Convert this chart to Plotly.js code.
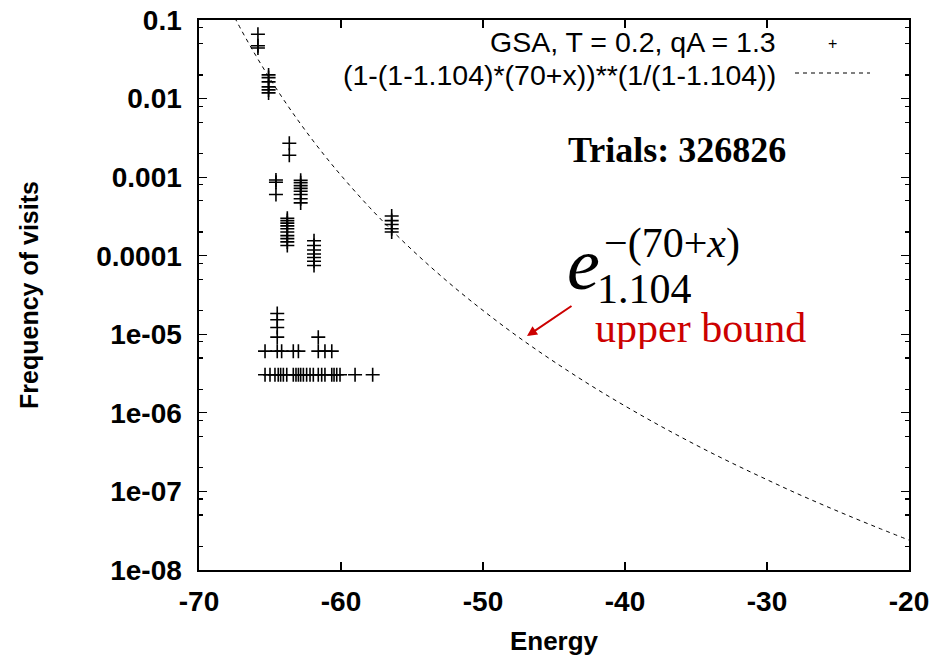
<!DOCTYPE html>
<html>
<head>
<meta charset="utf-8">
<script src="https://cdn.plot.ly/plotly-3.0.1.min.js"></script>
<style>html,body{margin:0;padding:0;background:#fff;}#chart{width:935px;height:659px;}</style>
</head>
<body>
<div id="chart"></div>
<script>
// GSA visits (energy, frequency of visits)
const energy = [
  -65.85, -65.85, -65.85,
  -65.1, -65.1, -65.1, -65.1, -65.1, -65.1,
  -63.64, -63.64,
  -64.58, -64.58, -64.58,
  -62.84, -62.84, -62.84, -62.84, -62.84, -62.84, -62.84, -62.84,
  -63.78, -63.78, -63.78, -63.78, -63.78, -63.78, -63.78, -63.78, -63.78, -63.78,
  -61.9, -61.9, -61.9, -61.9, -61.9, -61.9, -61.9,
  -56.43, -56.43, -56.43, -56.43, -56.43,
  -64.49, -64.49, -64.49, -64.49, -61.6,
  -65.35, -64.49, -64.18, -63.36, -63.0, -61.6, -61.13, -60.65,
  -65.35, -65.0, -64.65, -64.42, -64.25, -64.06, -63.82, -63.36, -63.17, -63.0, -62.84, -62.65,
  -62.42, -62.18, -61.95, -61.6, -61.36, -61.13, -60.65, -60.49, -60.3, -60.07, -59.01, -57.77
];
const freq = [
  0.066, 0.047, 0.044,
  0.0200, 0.0185, 0.0163, 0.0141, 0.0129, 0.0118,
  0.0027, 0.0019,
  0.00092, 0.00086, 0.00060,
  0.00091, 0.00085, 0.00078, 0.00072, 0.00066, 0.00060, 0.00053, 0.00047,
  0.00030, 0.00028, 0.00026, 0.00024, 0.00022, 0.00020, 0.00018, 0.000165, 0.00015, 0.000135,
  0.000155, 0.000135, 0.000118, 0.000105, 0.000095, 0.000085, 0.000075,
  0.00032, 0.00028, 0.00025, 0.00022, 0.00020,
  1.84e-5, 1.53e-5, 1.22e-5, 9.2e-6, 9.2e-6,
  6.1e-6, 6.1e-6, 6.1e-6, 6.1e-6, 6.1e-6, 6.1e-6, 6.1e-6, 6.1e-6,
  3.06e-6, 3.06e-6, 3.06e-6, 3.06e-6, 3.06e-6, 3.06e-6, 3.06e-6, 3.06e-6, 3.06e-6, 3.06e-6, 3.06e-6, 3.06e-6,
  3.06e-6, 3.06e-6, 3.06e-6, 3.06e-6, 3.06e-6, 3.06e-6, 3.06e-6, 3.06e-6, 3.06e-6, 3.06e-6, 3.06e-6, 3.06e-6
];

// upper bound curve
const boundX = [-68, -67, -66, -65, -64, -63, -62, -61, -60, -58, -56, -54, -52, -50, -48, -46, -44, -42, -40, -38, -36, -34, -32, -30, -28, -26, -24, -22, -20];
const boundY = [0.1625, 0.0735, 0.0353, 0.01785, 0.00945, 0.0052, 0.00296, 0.00174, 0.001054, 0.000414, 0.000177, 8.1e-5, 3.93e-5, 2.01e-5, 1.07e-5, 5.94e-6, 3.41e-6, 2.01e-6, 1.224e-6, 7.62e-7, 4.85e-7, 3.15e-7, 2.09e-7, 1.41e-7, 9.6e-8, 6.67e-8, 4.69e-8, 3.34e-8, 2.40e-8];

const yTickVals = [0.1, 0.01, 0.001, 0.0001, 1e-5, 1e-6, 1e-7, 1e-8];
const yTickText = ["0.1", "0.01", "0.001", "0.0001", "1e-05", "1e-06", "1e-07", "1e-08"];
const xTickVals = [-70, -60, -50, -40, -30, -20];
const xTickText = ["-70", "-60", "-50", "-40", "-30", "-20"];
const minorVals = [];
for (let e = -8; e < -1; e++) { [2, 5, 8].forEach(m => minorVals.push(m * Math.pow(10, e))); }

const legendLabels = ["GSA, T = 0.2, qA = 1.3", "(1-(1-1.104)*(70+x))**(1/(1-1.104))"];

const sansFam = "Liberation Sans, Arial, sans-serif";
const sans = {family: sansFam, size: 28.5, color: "#000"};
const serif = "Liberation Serif, Times New Roman, serif";

const traces = [
  {
    x: energy, y: freq, type: "scatter", mode: "markers", name: legendLabels[0],
    marker: {symbol: "cross-thin", size: 10, line: {width: 1.6, color: "#000"}, color: "#000"},
    showlegend: false, cliponaxis: true
  },
  {
    x: boundX, y: boundY, type: "scatter", mode: "lines", name: legendLabels[1],
    line: {color: "#000", width: 1, dash: "4px,4px", shape: "spline"},
    showlegend: false
  }
];

function px(x) { return (x - 199) / 710; }
function py(y) { return (570 - y) / 550; }

const layout = {
  width: 935, height: 659,
  margin: {l: 199, r: 26, t: 20, b: 89},
  paper_bgcolor: "#fff", plot_bgcolor: "#fff",
  showlegend: false,
  xaxis: {
    range: [-70, -20], tickmode: "array", tickvals: xTickVals, ticktext: xTickText,
    ticks: "inside", ticklen: 8, tickwidth: 1.2, tickcolor: "#000",
    showline: true, linecolor: "#000", linewidth: 1.6, mirror: "ticks",
    showgrid: false, zeroline: false,
    tickfont: {family: sansFam, size: 28, color: "#000", weight: "bold"},
    ticklabelstandoff: 6,
    title: {text: "<b>Energy</b>", font: {family: sansFam, size: 26, color: "#000"}, standoff: 15}
  },
  yaxis: {
    type: "log", range: [-8, -1], tickmode: "array", tickvals: yTickVals, ticktext: yTickText,
    ticks: "inside", ticklen: 8, tickwidth: 1.2, tickcolor: "#000",
    minor: {tickmode: "array", tickvals: minorVals, ticks: "inside", ticklen: 4, tickwidth: 1.2, tickcolor: "#000", showgrid: false},
    showline: true, linecolor: "#000", linewidth: 1.6, mirror: "ticks",
    showgrid: false, zeroline: false,
    tickfont: {family: sansFam, size: 28, color: "#000", weight: "bold"},
    ticklabelstandoff: 10,
    title: {text: "<b>Frequency of visits</b>", font: {family: sansFam, size: 25, color: "#000"}, standoff: 50}
  },
  shapes: [
    {type: "line", xref: "paper", yref: "paper", x0: px(795), x1: px(870), y0: py(73), y1: py(73),
     line: {color: "#000", width: 1, dash: "4px,4px"}}
  ],
  annotations: [
    {xref: "paper", yref: "paper", x: px(777), y: py(42), xanchor: "right", yanchor: "middle", showarrow: false,
     text: legendLabels[0], font: sans, borderpad: 0},
    {xref: "paper", yref: "paper", x: px(777), y: py(75), xanchor: "right", yanchor: "middle", showarrow: false,
     text: legendLabels[1], font: sans, borderpad: 0},
    {xref: "paper", yref: "paper", x: px(832), y: py(44), xanchor: "center", yanchor: "middle", showarrow: false,
     text: "+", font: {family: sansFam, size: 16, color: "#000"}},
    {xref: "paper", yref: "paper", x: px(677), y: py(150), xanchor: "center", yanchor: "middle", showarrow: false,
     text: "<b>Trials: 326826</b>", font: {family: serif, size: 36, color: "#000"}},
    {xref: "paper", yref: "paper", x: px(566), y: py(264), xanchor: "left", yanchor: "middle", showarrow: false,
     text: "<i>e</i>", font: {family: serif, size: 74, color: "#000"}, borderpad: 0},
    {xref: "paper", yref: "paper", x: px(603), y: py(244), xanchor: "left", yanchor: "middle", showarrow: false,
     text: "\u2212(70+<i>x</i>)", font: {family: serif, size: 42, color: "#000"}, borderpad: 0},
    {xref: "paper", yref: "paper", x: px(596), y: py(289), xanchor: "left", yanchor: "middle", showarrow: false,
     text: "1.104", font: {family: serif, size: 42, color: "#000"}, borderpad: 0, height: 36},
    {xref: "paper", yref: "paper", x: px(700), y: py(328), xanchor: "center", yanchor: "middle", showarrow: false,
     text: "upper bound", font: {family: serif, size: 42, color: "#cc0000"}, borderpad: 0, height: 42},
    {xref: "paper", yref: "paper", x: px(527), y: py(336), showarrow: true, text: "",
     ax: 46, ay: -31, arrowhead: 2, arrowsize: 1, arrowwidth: 2, arrowcolor: "#cc0000", standoff: 0}
  ]
};

Plotly.newPlot("chart", traces, layout, {displayModeBar: false, staticPlot: true});
</script>
</body>
</html>
